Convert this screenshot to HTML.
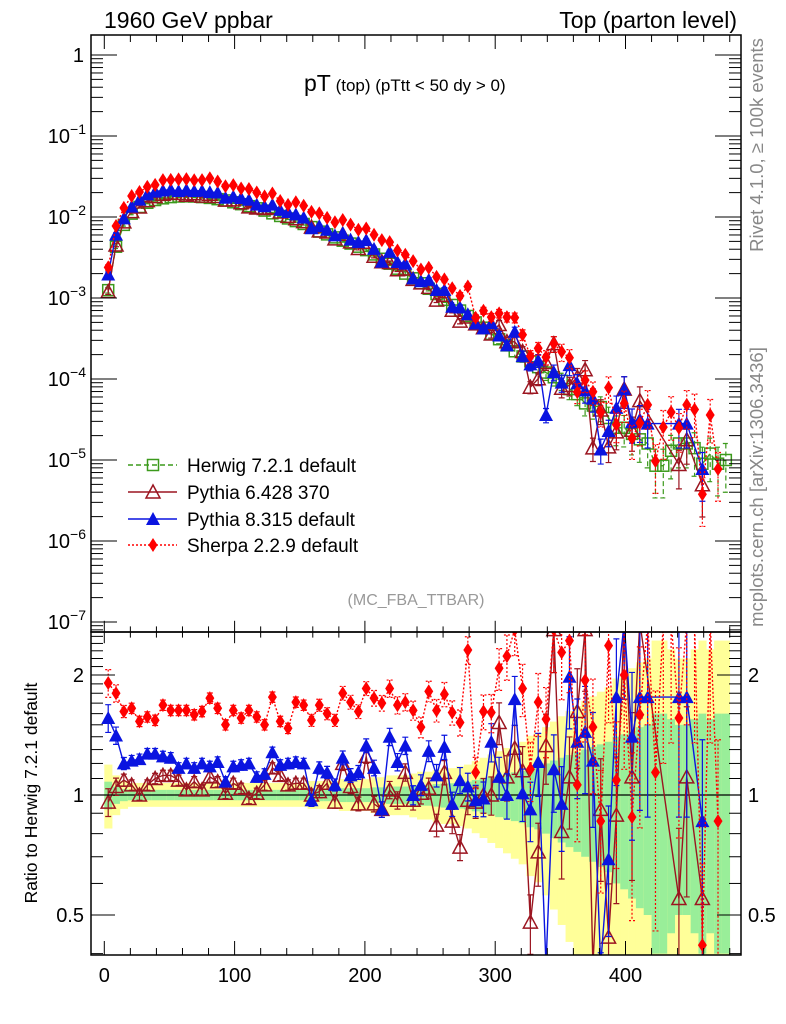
<!DOCTYPE html>
<html><head><meta charset="utf-8">
<style>
html,body{margin:0;padding:0;background:#fff;overflow:hidden;width:786px;height:1024px;}
svg{display:block;font-family:"Liberation Sans",Arial,sans-serif;}
</style></head>
<body>
<svg id="chart" width="786" height="1024" viewBox="0 0 786 1024" xmlns="http://www.w3.org/2000/svg">
<rect x="0" y="0" width="786" height="1024" fill="#fff"/>
<defs>
<clipPath id="clipMain"><rect x="91" y="35" width="650" height="597"/></clipPath>
<clipPath id="clipRatio"><rect x="91" y="632" width="650" height="323"/></clipPath>
</defs>
<g id="ratioBands" clip-path="url(#clipRatio)"></g>
<g id="mainMarks" clip-path="url(#clipMain)"></g>
<g id="ratioMarks" clip-path="url(#clipRatio)"></g>
<g id="axes"></g>
<text x="104" y="28" font-size="23">1960 GeV ppbar</text>
<text x="737" y="28" font-size="23" text-anchor="end">Top (parton level)</text>
<text x="304" y="91"><tspan font-size="23">pT</tspan><tspan font-size="17"> (top)  (pTtt &lt; 50 dy &gt; 0)</tspan></text>
<text x="416" y="605" font-size="16" fill="#999" text-anchor="middle">(MC_FBA_TTBAR)</text>
<text transform="translate(763,145) rotate(-90)" font-size="18.5" fill="#888" text-anchor="middle">Rivet 4.1.0, ≥ 100k events</text>
<text transform="translate(763,487) rotate(-90)" font-size="18.5" fill="#888" text-anchor="middle">mcplots.cern.ch [arXiv:1306.3436]</text>
<text transform="translate(37,793) rotate(-90)" font-size="17.5" text-anchor="middle">Ratio to Herwig 7.2.1 default</text>
<g id="legend"></g>
</svg>
<script>
// ---- data ----
const binCenters = [3,9,15,21,27,33,39,45,51,57,63,69,75,81,87,93,99,105,111,117,123,129,135,141,147,153,159,165,171,177,183,189,195,201,207,213,219,225,231,237,243,249,255,261,267,273,279,285,291,297,303,309,315,321,327,333,339,345,351,357,363,369,375,381,387,393,399,405,411,417,423,429,435,441,447,453,459,465,471,477];
// Herwig values in units of 1e-3
const herwigVals = [1.25,4.3,8.0,11.0,13.3,15.0,16.2,17.0,17.6,17.9,18.0,17.9,17.6,17.2,16.6,16.0,15.2,14.4,13.6,12.8,12.0,11.1,10.3,9.6,8.9,8.2,7.5,6.6,6.1,5.6,5.1,4.7,4.3,3.9,3.45,3.05,2.65,2.3,2.0,1.75,1.52,1.3,1.12,0.95,0.82,0.70,0.60,0.50,0.43,0.36,0.31,0.26,0.22,0.19,0.165,0.14,0.12,0.105,0.095,0.075,0.065,0.05,0.047,0.045,0.033,0.025,0.025,0.021,0.018,0.016,0.0085,0.0085,0.013,0.016,0.016,0.014,0.009,0.012,0.009,0.01];
const herwigErr = [0.08,0.05,0.035,0.03,0.03,0.03,0.03,0.03,0.03,0.03,0.03,0.03,0.03,0.03,0.03,0.03,0.03,0.03,0.03,0.03,0.03,0.03,0.03,0.03,0.03,0.03,0.035,0.035,0.035,0.035,0.04,0.04,0.04,0.04,0.045,0.045,0.05,0.05,0.05,0.055,0.06,0.06,0.065,0.07,0.07,0.075,0.08,0.09,0.1,0.11,0.12,0.13,0.14,0.15,0.17,0.18,0.2,0.22,0.24,0.26,0.28,0.3,0.32,0.34,0.36,0.4,0.42,0.45,0.48,0.5,0.6,0.6,0.55,0.5,0.5,0.55,0.6,0.55,0.6,0.6];
const py6Ratio = [0.96,1.05,1.09,1.06,1.00,1.06,1.10,1.12,1.12,1.09,1.03,1.08,1.03,1.11,1.08,1.01,1.07,1.04,0.98,1.01,1.06,1.17,1.12,1.06,1.07,1.07,1.00,1.02,1.07,0.96,1.20,1.05,0.95,1.25,0.95,0.92,1.03,0.97,1.14,0.97,1.01,1.04,0.84,1.14,0.86,0.74,0.97,0.96,1.0,1.0,1.52,1.11,1.31,1.15,0.48,0.72,1.33,2.6,0.81,1.11,1.62,2.6,0.3,0.92,0.44,0.89,3.0,1.11,3.0,null,null,null,null,0.55,1.11,null,0.55,null,null,null];
const py8Ratio = [1.56,1.41,1.20,1.22,1.23,1.27,1.27,1.25,1.24,1.17,1.20,1.17,1.20,1.18,1.21,1.08,1.18,1.19,1.20,1.11,1.13,1.28,1.19,1.20,1.21,1.20,0.97,1.17,1.14,1.06,1.24,1.12,1.14,1.33,1.17,0.92,1.40,1.21,1.33,1.00,1.06,1.29,1.12,1.32,0.95,1.09,1.05,0.97,0.98,1.36,1.11,1.0,1.74,1.01,0.92,1.21,0.3,1.16,0.95,1.98,1.36,1.44,1.22,0.3,0.69,1.76,3.0,1.40,1.76,1.76,null,null,null,1.76,1.76,null,0.86,null,null,null];
const sherpaRatio = [1.91,1.80,1.62,1.65,1.53,1.57,1.54,1.68,1.63,1.63,1.63,1.59,1.62,1.75,1.65,1.50,1.63,1.56,1.63,1.57,1.50,1.76,1.53,1.47,1.71,1.68,1.54,1.68,1.60,1.54,1.80,1.71,1.62,1.85,1.75,1.70,1.85,1.68,1.71,1.63,1.48,1.82,1.63,1.79,1.61,1.52,2.31,1.14,1.62,1.61,2.08,2.23,2.6,1.85,1.16,1.71,1.55,2.6,2.28,2.44,1.06,1.94,1.48,0.86,2.37,1.09,2.0,0.88,1.59,3.0,1.14,3.0,3.0,1.56,3.0,3.0,0.42,3.0,0.86,null];
const xTickLabels = [0,100,200,300,400];
const mainTickExps = [0,-1,-2,-3,-4,-5,-6,-7];
const ratioTickLabels = [0.5,1,2];

// ---- axis functions (clamped to panel extents) ----
const X0=104.3, XS=1.303;
function xp(v){return X0+XS*v;}
function ym(v){return Math.min(Math.max(55-81*Math.log10(v),25),642);}
function yr(v){return Math.min(Math.max(795-120*Math.log2(v),622),965);}
const NS="http://www.w3.org/2000/svg";
function mk(tag,attrs,parent){const e=document.createElementNS(NS,tag);for(const k in attrs)e.setAttribute(k,attrs[k]);parent.appendChild(e);return e;}
const axes=document.getElementById('axes');
const mainG=document.getElementById('mainMarks');
const ratioG=document.getElementById('ratioMarks');
const bandG=document.getElementById('ratioBands');
const legend=document.getElementById('legend');

// ---- bands ----
const halfW=3*XS;
binCenters.forEach((c,i)=>{
  const e=herwigErr[i];
  const ylo=Math.max(1-2.2*e,0.2), yhi=1+2.4*e;
  const r1=mk('rect',{x:xp(c)-halfW,y:yr(yhi),width:2*halfW+0.3,height:yr(ylo)-yr(yhi),fill:'#ffff99'},bandG);
  
  
  const glo=Math.max(1-e,0.2), ghi=1+e;
  const r2=mk('rect',{x:xp(c)-halfW,y:yr(ghi),width:2*halfW+0.3,height:yr(glo)-yr(ghi),fill:'#99ee99'},bandG);
  
  
});
const one=mk('line',{x1:91,x2:741,y1:yr(1),y2:yr(1),stroke:'#000','stroke-width':1.2},bandG);



// ---- markers ----
function marker(type,color,x,y,g){
  let el;
  if(type==='square') el=mk('rect',{x:x-5.5,y:y-5.5,width:11,height:11,fill:'none',stroke:color,'stroke-width':1.5},g);
  else if(type==='otri') el=mk('polygon',{points:`${x},${y-7} ${x-7},${y+6} ${x+7},${y+6}`,fill:'none',stroke:color,'stroke-width':1.5},g);
  else if(type==='ftri') el=mk('polygon',{points:`${x},${y-7} ${x-7},${y+6} ${x+7},${y+6}`,fill:color},g);
  else el=mk('polygon',{points:`${x},${y-7} ${x-4.5},${y} ${x},${y+7} ${x+4.5},${y}`,fill:color},g);
  return el;
}
const series=[
 {name:'herwig',label:'Herwig 7.2.1 default',color:'#3c9a1c',type:'square',dash:'5,3',ratio:binCenters.map(()=>1)},
 {name:'pythia6',label:'Pythia 6.428 370',color:'#9b1520',type:'otri',dash:'',ratio:py6Ratio},
 {name:'pythia8',label:'Pythia 8.315 default',color:'#0a14e0',type:'ftri',dash:'',ratio:py8Ratio},
 {name:'sherpa',label:'Sherpa 2.2.9 default',color:'#ff0000',type:'diamond',dash:'2,2',ratio:sherpaRatio}
];
function drawSeries(s,g,yf,valf,panel){
  const sg=mk('g',{},g);
  
  
  let pts=[];
  binCenters.forEach((c,i)=>{const v=valf(i); if(v!==null&&v>0) pts.push([xp(c),yf(v),v,i]);});
  const path=mk('polyline',{points:pts.map(p=>p[0].toFixed(1)+','+p[1].toFixed(1)).join(' '),fill:'none',stroke:s.color,'stroke-width':1.4},sg);
  if(s.dash) path.setAttribute('stroke-dasharray',s.dash);
  
  
  pts.forEach(p=>{
    const e=herwigErr[p[3]]*(s.name==='herwig'&&panel==='ratio'?0:1);
    if(e>0.025){
      const lo=Math.max(p[2]*(1-e),1e-9), hi=p[2]*(1+e);
      const eb=mk('path',{d:`M${p[0]},${yf(hi)}V${yf(lo)}M${p[0]-3},${yf(hi)}h6M${p[0]-3},${yf(lo)}h6`,stroke:s.color,'stroke-width':1.2,fill:'none'},sg);
      if(s.dash) eb.setAttribute('stroke-dasharray',s.dash);
      
      
    }
    const m=marker(s.type,s.color,p[0],p[1],sg);
    
    
  });
}
series.forEach(s=>{
  drawSeries(s,mainG,ym,i=>{const r=s.ratio[i]; return r===null?null:herwigVals[i]*1e-3*r;},'main');
});
series.forEach(s=>{
  if(s.name==='herwig') return;
  drawSeries(s,ratioG,yr,i=>s.ratio[i],'ratio');
});

// ---- axes ----
function line(x1,y1,x2,y2,w,name){const l=mk('line',{x1,y1,x2,y2,stroke:'#000','stroke-width':w||1},axes);return l;}
const f1=mk('rect',{x:91,y:35,width:650,height:597,fill:'none',stroke:'#000','stroke-width':1.5},axes);

const f2=mk('rect',{x:91,y:632,width:650,height:323,fill:'none',stroke:'#000','stroke-width':1.5},axes);

for(let v=0;v<=480;v+=20){
  const major=v%100===0, x=xp(v);
  const L=major?14:7;
  line(x,955,x,955-L,1,'x-tick');line(x,632,x,632-L*0.8,1,'x-tick');
  line(x,632,x,632+L*0.8,1,'x-tick');line(x,35,x,35+L,1,'x-tick');
}
xTickLabels.forEach(v=>{const t=mk('text',{x:xp(v),y:982,'font-size':20,'text-anchor':'middle'},axes);t.textContent=v;});
for(let e=1;e>=-8;e--){
  for(let k=1;k<10;k++){
    const val=k*Math.pow(10,e); const yraw=55-81*Math.log10(val);
    if(yraw<35||yraw>632) continue;
    const L=k===1?26:12;
    line(91,yraw,91+L,yraw,1,'y-tick');line(741,yraw,741-L,yraw,1,'y-tick');
  }
}
mainTickExps.forEach(e=>{
  const y=ym(Math.pow(10,e));
  const t=mk('text',{x:84,y:y+7,'font-size':20,'text-anchor':'end'},axes);
  
  if(e===0){t.textContent='1';}
  else{t.textContent='10';const ts=mk('tspan',{dy:-9,'font-size':14},t);ts.textContent='−'+(-e);t.setAttribute('x',86);}
});
for(let v=0.4;v<=2.6;v+=0.1){
  const y=795-120*Math.log2(v); if(y<632||y>955) continue;
  const major=[0.5,1,2].some(m=>Math.abs(m-v)<1e-6);
  const L=major?24:12;
  line(91,y,91+L,y,1,'ratio-y-tick');line(741,y,741-L,y,1,'ratio-y-tick');
}
ratioTickLabels.forEach(v=>{
  const y=yr(v)+7;
  const t=mk('text',{x:84,y,'font-size':20,'text-anchor':'end'},axes);t.textContent=v;
  
  const t2=mk('text',{x:748,y,'font-size':20},axes);t2.textContent=v;
  
});
// ---- legend ----
const legY=[465,492,519,545];
series.forEach((s,i)=>{
  const g=mk('g',{},legend);
  
  
  const y=legY[i];
  const l=mk('line',{x1:128,x2:177,y1:y,y2:y,stroke:s.color,'stroke-width':1.4},g);
  if(s.dash) l.setAttribute('stroke-dasharray',s.dash);
  marker(s.type,s.color,153,y,g);
  const t=mk('text',{x:187,y:y+7,'font-size':19},g);t.textContent=s.label;
});
</script>
</body></html>
